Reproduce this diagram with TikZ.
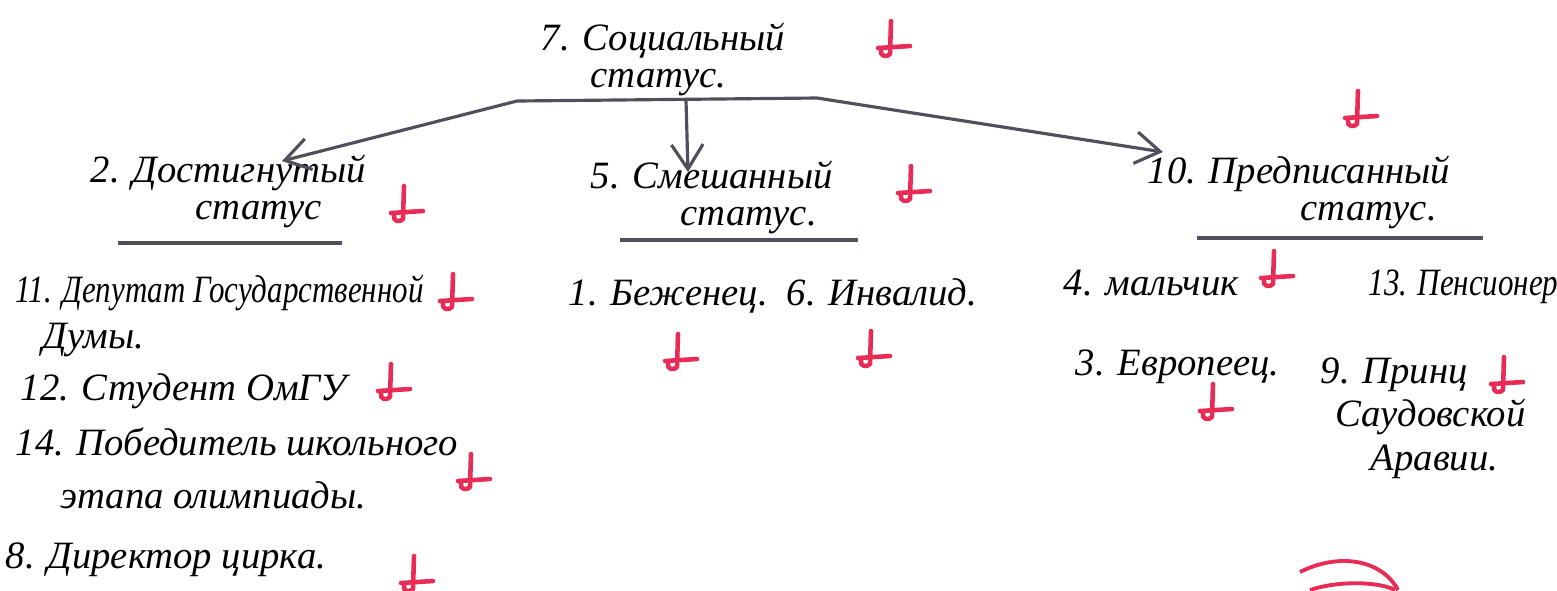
\documentclass[tikz,border=0pt]{standalone}
\usepackage{fontspec}
\setmainfont{Liberation Serif}
\usetikzlibrary{arrows.meta}

\definecolor{penred}{RGB}{232,44,86}
\definecolor{pengray}{RGB}{80,80,92}

\newcommand{\squeezed}[1]{\scalebox{0.8}[1]{#1}}

\tikzset{
  hand/.style={anchor=base west,align=left,inner sep=0pt,font=\fontsize{11}{10.5}\selectfont\itshape},
  wide/.style={font=\fontsize{11}{13}\selectfont\itshape},
  wider/.style={font=\fontsize{11}{15}\selectfont\itshape},
  bar/.style={pengray,line width=0.9pt},
  tip/.style={bar,-{Straight Barb[length=7pt,width=9pt]}},
  under/.style={pengray,line width=1pt},
  redmark/.pic={
    \draw[penred,line width=1.3pt,line cap=round,line join=round]
      (1,-26) -- (0,7) .. controls (-3,11) and (-11,9) .. (-9,3);
    \draw[penred,line width=1.3pt,line cap=round] (-12,1) -- (20,-1);
  }
}

\begin{document}
\begin{tikzpicture}[x=0.01cm,y=-0.01cm]

  \useasboundingbox (0,0) rectangle (1557,590);

  % top level
  \node (soc) at (540, 87) [hand] {7. Социальный\\\hspace*{0.5cm}статус.};

  % second level
  \node (dost) at (90, 219) [hand] {2. Достигнутый\\\hspace*{1.05cm}статус};
  \node (smesh) at (590, 225) [hand] {5. Смешанный\\\hspace*{0.9cm}статус.};
  \node (pred) at (1147, 220) [hand] {10. Предписанный\\\hspace*{1.53cm}статус.};

  \draw [under] (118, 243) -- (342, 243);
  \draw [under] (620, 240) -- (858, 240);
  \draw [under] (1197, 238) -- (1483, 238);

  % connectors
  \coordinate (barL) at (517, 101);
  \coordinate (barM) at (686, 100);
  \coordinate (barR) at (817, 98);
  \coordinate (dostTip) at (282, 161);
  \coordinate (smeshTip) at (688, 172);
  \coordinate (predTip) at (1163, 152);

  \draw [bar] (barL) -- (barR);
  \draw [tip] (barL) -- (dostTip);
  \draw [tip] (barM) -- (smeshTip);
  \draw [tip] (barR) -- (predTip);

  % examples, left column
  \node (deput) at (15, 348) [hand,wide] {\squeezed{11. Депутат Государственной}\\\hspace*{0.27cm}Думы.};
  \node (stud) at (20, 400) [hand] {12. Студент ОмГУ};
  \node (pobed) at (15, 508) [hand,wider] {14. Победитель школьного\\\hspace*{0.45cm}этапа олимпиады.};
  \node (dir) at (5, 568) [hand] {8. Директор цирка.};

  % examples, middle
  \node (bezh) at (568, 305) [hand] {1. Беженец.};
  \node (inv) at (786, 305) [hand] {6. Инвалид.};

  % examples, right
  \node (malch) at (1063, 295) [hand] {4. мальчик};
  \node (pens) at (1368, 295) [hand] {\squeezed{13. Пенсионер}};
  \node (evrop) at (1075, 375) [hand] {3. Европеец.};
  \node (princ) at (1320, 470) [hand,font=\fontsize{11}{12.3}\selectfont\itshape] {9. Принц\\\hspace*{0.15cm}Саудовской\\\hspace*{0.5cm}Аравии.};

  % red marks
  \pic at (890, 47) {redmark};
  \pic at (403, 212) {redmark};
  \pic at (910, 192) {redmark};
  \pic at (1357, 117) {redmark};
  \pic at (452, 300) {redmark};
  \pic at (390, 390) {redmark};
  \pic at (470, 480) {redmark};
  \pic at (413, 582) {redmark};
  \pic at (677, 360) {redmark};
  \pic at (870, 357) {redmark};
  \pic at (1273, 277) {redmark};
  \pic at (1212, 410) {redmark};
  \pic at (1503, 383) {redmark};

  \draw [penred,line width=1.1pt] (1300, 572) .. controls (1340, 552) and (1382, 560) .. (1398, 590);
  \draw [penred,line width=1.1pt] (1310, 590) .. controls (1340, 580) and (1380, 582) .. (1395, 590);

\end{tikzpicture}
\end{document}
